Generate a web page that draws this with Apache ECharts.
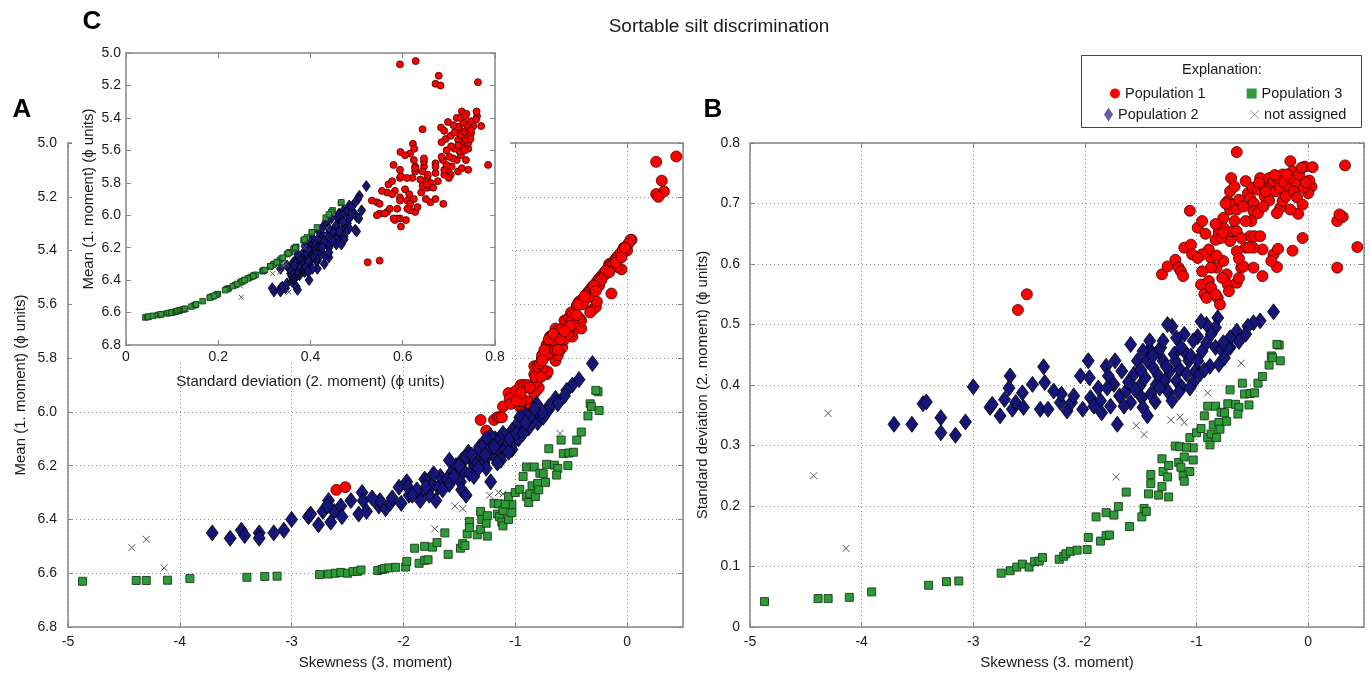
<!DOCTYPE html>
<html><head><meta charset="utf-8">
<script src="https://cdn.jsdelivr.net/npm/echarts@6/dist/echarts.min.js"></script>
<style>html,body{margin:0;padding:0;background:#fff}#chart{width:1370px;height:675px}</style>
</head><body><div id="chart"></div>
<script>
// ---------------- DATA (one index = one sample: skewness, std deviation, mean) ----------------
const seriesNames = ['Population 1', 'Population 2', 'Population 3', 'not assigned'];

const p1Skew = [-2.60,-2.52,-0.64,-0.69,-0.16,-0.03,0.04,0.33,0.26,0.31,
0.28,0.26,0.44,-0.05,-0.14,-0.09,0.03,0.01,0.00,-1.06,
-0.99,-0.95,-0.92,-1.31,-1.26,-1.19,-1.16,-1.14,-1.12,-1.11,
-1.05,-1.04,-0.96,-0.93,-0.91,-0.89,-0.87,-0.81,-0.79,-0.83,
-0.87,-0.82,-0.73,-0.72,-0.71,-0.64,-0.62,-0.60,-0.58,-0.49,
-0.41,-0.31,-0.28,-0.27,-0.33,-0.41,-0.49,-0.52,-0.48,-0.56,
-0.53,-0.43,-0.89,-0.83,-0.80,-0.76,-0.76,-0.72,-0.70,-0.68,
-0.66,-0.72,-0.70,-0.68,-0.64,-0.62,-0.58,-0.56,-0.54,-0.52,
-0.50,-0.49,-0.45,-0.43,-0.41,-0.39,-0.37,-0.35,-0.33,-0.31,
-0.29,-0.27,-0.25,-0.23,-0.21,-0.17,-0.16,-0.14,-0.12,-0.10,
-0.08,-0.06,-0.25,-0.23,-0.49,-0.45,-0.51,-0.64,-0.74,-0.76,
-0.82,-0.87,-0.77,-0.95,-0.95,-0.99,-0.83,-0.80,-0.78,-0.76,
-0.64,-0.62,-0.60,-0.56,-0.20,-0.13,-0.35,-0.40,-0.30,-0.19,
-0.10,-0.04,-0.70,-0.66,-0.44,-0.38,-0.05,-0.16,-0.28,-0.02];
const p1Std = [0.524,0.550,0.785,0.742,0.770,0.761,0.760,0.763,0.671,0.678,
0.682,0.594,0.628,0.643,0.622,0.683,0.728,0.738,0.717,0.688,
0.660,0.671,0.650,0.583,0.596,0.607,0.594,0.588,0.580,0.627,
0.632,0.616,0.566,0.550,0.544,0.572,0.561,0.544,0.533,0.550,
0.610,0.594,0.583,0.566,0.555,0.569,0.577,0.594,0.596,0.594,
0.580,0.616,0.595,0.625,0.605,0.624,0.627,0.646,0.646,0.627,
0.627,0.646,0.624,0.640,0.654,0.660,0.676,0.643,0.638,0.654,
0.671,0.704,0.690,0.698,0.690,0.706,0.695,0.737,0.717,0.709,
0.726,0.701,0.723,0.742,0.731,0.712,0.726,0.742,0.728,0.737,
0.720,0.742,0.726,0.748,0.734,0.723,0.742,0.753,0.739,0.731,
0.748,0.759,0.693,0.704,0.687,0.684,0.671,0.654,0.700,0.605,
0.614,0.594,0.577,0.588,0.616,0.610,0.666,0.649,0.643,0.652,
0.621,0.609,0.643,0.671,0.712,0.720,0.705,0.695,0.747,0.748,
0.710,0.726,0.720,0.728,0.734,0.720,0.698,0.690,0.684,0.735];
const p1Mean = [6.29,6.28,5.69,5.72,5.45,5.39,5.36,5.18,5.19,5.14,
5.20,5.07,5.05,5.47,5.56,5.46,5.36,5.375,5.40,5.93,
5.92,5.90,5.90,6.03,6.07,6.03,6.02,6.02,6.02,5.98,
5.95,5.97,5.98,5.99,6.00,5.96,5.99,5.92,5.91,5.93,
5.91,5.89,5.85,5.86,5.85,5.81,5.79,5.77,5.76,5.72,
5.69,5.62,5.61,5.59,5.63,5.66,5.70,5.70,5.67,5.73,
5.71,5.65,5.90,5.86,5.83,5.80,5.79,5.79,5.78,5.76,
5.74,5.75,5.75,5.72,5.72,5.70,5.69,5.66,5.66,5.65,
5.63,5.64,5.605,5.59,5.585,5.59,5.565,5.555,5.545,5.535,
5.535,5.515,5.505,5.495,5.485,5.465,5.46,5.45,5.44,5.43,
5.42,5.41,5.53,5.51,5.66,5.64,5.68,5.75,5.77,5.84,
5.87,5.91,5.87,5.96,5.93,5.96,5.83,5.83,5.82,5.81,
5.77,5.77,5.73,5.70,5.49,5.455,5.575,5.60,5.53,5.475,
5.445,5.40,5.73,5.71,5.60,5.57,5.425,5.48,5.55,5.39];

const p2Skew = [-3.71,-3.55,-3.45,-3.42,-3.29,-3.29,-3.16,-3.07,-3.00,-2.85,
-2.83,-2.76,-2.72,-2.67,-2.65,-2.62,-2.56,-2.55,-2.47,-2.40,
-2.37,-2.36,-2.33,-2.22,-2.21,-2.16,-2.12,-2.10,-2.04,-2.02,
-1.97,-1.96,-1.95,-1.86,-1.85,-1.81,-1.79,-1.77,-1.74,-1.71,
-1.69,-1.67,-1.63,-1.61,-1.59,-1.56,-1.53,-1.51,-1.49,-1.48,
-1.46,-1.44,-1.42,-1.41,-1.39,-1.36,-1.34,-1.32,-1.30,-1.28,
-1.26,-1.24,-1.22,-1.20,-1.18,-1.15,-1.13,-1.11,-1.09,-1.07,
-1.03,-1.01,-0.97,-0.95,-0.88,-0.83,-0.80,-0.78,-0.70,-0.75,
-0.31,-0.43,-0.49,-0.54,-0.56,-0.64,-0.62,-0.70,-0.72,-0.76,
-0.81,-0.83,-0.87,-0.91,-0.96,-0.99,-1.03,-1.11,-1.14,-1.18,
-1.22,-1.26,-1.30,-1.34,-1.42,-1.48,-1.59,-1.44,-1.88,-1.65,
-1.55,-1.37,-1.33,-1.27,-1.19,-1.16,-1.06,-1.05,-0.99,-0.93,
-0.91,-1.39,-1.50,-1.73,-2.28,-2.68,-1.92,-1.80];
const p2Std = [0.335,0.335,0.369,0.372,0.346,0.321,0.317,0.339,0.397,0.363,
0.368,0.349,0.376,0.415,0.360,0.371,0.387,0.363,0.401,0.360,
0.430,0.404,0.360,0.371,0.385,0.357,0.371,0.382,0.415,0.360,
0.440,0.412,0.379,0.374,0.354,0.431,0.415,0.365,0.401,0.335,
0.382,0.423,0.390,0.405,0.371,0.418,0.440,0.398,0.379,0.363,
0.412,0.349,0.459,0.385,0.429,0.401,0.415,0.462,0.440,0.408,
0.390,0.423,0.374,0.451,0.407,0.426,0.396,0.456,0.418,0.440,
0.404,0.423,0.418,0.456,0.431,0.462,0.434,0.459,0.462,0.445,
0.521,0.506,0.503,0.497,0.484,0.489,0.472,0.478,0.462,0.470,
0.511,0.495,0.484,0.500,0.505,0.480,0.473,0.484,0.462,0.478,
0.497,0.500,0.473,0.456,0.473,0.456,0.467,0.440,0.395,0.365,
0.392,0.372,0.395,0.430,0.440,0.388,0.395,0.448,0.440,0.425,
0.470,0.448,0.425,0.440,0.390,0.395,0.365,0.395];
const p2Mean = [6.45,6.47,6.44,6.46,6.45,6.47,6.45,6.44,6.40,6.39,
6.38,6.42,6.37,6.33,6.41,6.37,6.35,6.39,6.33,6.38,
6.30,6.33,6.37,6.35,6.33,6.36,6.34,6.32,6.28,6.34,
6.26,6.28,6.31,6.31,6.33,6.25,6.26,6.31,6.27,6.33,
6.28,6.24,6.26,6.25,6.27,6.22,6.20,6.23,6.26,6.29,
6.22,6.31,6.16,6.23,6.18,6.20,6.19,6.13,6.15,6.19,
6.21,6.16,6.26,6.12,6.17,6.14,6.18,6.10,6.14,6.11,
6.14,6.11,6.10,6.06,6.06,6.02,6.04,6.01,5.99,6.02,
5.82,5.88,5.90,5.92,5.94,5.95,5.97,5.98,6.00,6.00,
5.97,5.99,6.02,6.01,6.02,6.05,6.07,6.08,6.10,6.10,
6.09,6.10,6.13,6.15,6.15,6.18,6.18,6.17,6.29,6.29,
6.24,6.24,6.21,6.16,6.13,6.19,6.15,6.10,6.08,6.08,
6.04,6.16,6.20,6.23,6.32,6.35,6.31,6.28];

const p3Skew = [-4.87,-4.39,-4.30,-4.11,-3.91,-3.40,-3.24,-3.13,-2.75,-2.67,
-2.61,-2.56,-2.50,-2.45,-2.41,-2.38,-2.23,-2.19,-2.17,-2.13,
-2.07,-1.98,-1.97,-1.90,-1.86,-1.81,-1.78,-1.81,-1.74,-1.70,
-1.63,-1.60,-1.49,-1.47,-1.45,-1.43,-1.41,-1.41,-1.34,-1.31,
-1.30,-1.31,-1.25,-1.26,-1.25,-1.19,-1.16,-1.14,-1.12,-1.11,
-1.15,-1.11,-1.06,-1.03,-1.03,-1.09,-1.06,-1.00,-0.96,-0.93,
-0.90,-0.90,-0.88,-0.87,-0.85,-0.83,-0.82,-0.80,-0.79,-0.78,
-0.75,-0.73,-0.70,-0.72,-0.65,-0.62,-0.63,-0.59,-0.57,-0.53,
-0.52,-0.48,-0.45,-0.41,-0.35,-0.33,-0.32,-0.25,-0.26,-0.28];
const p3Std = [0.042,0.047,0.047,0.049,0.058,0.069,0.075,0.076,0.089,0.093,
0.099,0.104,0.099,0.108,0.109,0.115,0.112,0.117,0.121,0.125,
0.127,0.128,0.148,0.182,0.142,0.151,0.152,0.189,0.185,0.199,
0.223,0.166,0.182,0.196,0.191,0.220,0.252,0.237,0.218,0.232,
0.257,0.278,0.215,0.248,0.267,0.299,0.272,0.264,0.250,0.241,
0.298,0.281,0.257,0.276,0.296,0.297,0.313,0.321,0.328,0.349,
0.365,0.313,0.301,0.319,0.334,0.365,0.313,0.338,0.327,0.355,
0.354,0.340,0.392,0.369,0.368,0.363,0.352,0.403,0.385,0.367,
0.386,0.387,0.403,0.414,0.433,0.448,0.445,0.440,0.466,0.467];
const p3Mean = [6.630,6.627,6.627,6.626,6.620,6.615,6.612,6.611,6.605,6.603,
6.600,6.597,6.600,6.594,6.593,6.588,6.590,6.586,6.583,6.580,
6.578,6.577,6.556,6.507,6.563,6.552,6.550,6.500,6.503,6.486,
6.450,6.530,6.507,6.490,6.497,6.454,6.408,6.430,6.457,6.437,
6.400,6.370,6.462,6.414,6.386,6.340,6.380,6.390,6.410,6.424,
6.342,6.367,6.400,6.375,6.345,6.343,6.315,6.300,6.288,6.240,
6.205,6.315,6.337,6.305,6.275,6.205,6.315,6.266,6.290,6.228,
6.230,6.262,6.137,6.195,6.198,6.210,6.235,6.105,6.155,6.200,
6.153,6.150,6.105,6.075,6.015,5.970,5.980,5.995,5.925,5.920];

const naSkew = [-4.43,-4.30,-4.14,-1.72,-1.54,-1.47,-1.23,-1.15,-1.11,-0.90,-0.60];
const naStd  = [0.250,0.353,0.130,0.248,0.333,0.318,0.342,0.347,0.338,0.387,0.436];
const naMean = [6.505,6.474,6.580,6.435,6.350,6.360,6.310,6.300,6.305,6.200,6.080];

// axis ranges / tick steps
const skewRange = [-5, 0.5], skewStep = 1;
const meanRange = [5.0, 6.8], meanStep = 0.2;
const stdRangeB = [0, 0.8], stdStepB = 0.1;
const stdRangeC = [0, 0.8], stdStepC = 0.2;

// ---------------- CHART ----------------
const FONT = '"Liberation Sans", Arial, Helvetica, sans-serif';
const AXC = '#858585', TXT = '#1a1a1a';
const chart = echarts.init(document.getElementById('chart'), null, {renderer: 'canvas'});
const zip = (a, b) => a.map((v, i) => [v, b[i]]);
const X_PATH = 'path://M0,0L10,10M10,0L0,10';

function mainAxis(p) {
  return {
    type: 'value', gridIndex: p.grid, position: p.pos, min: p.range[0], max: p.range[1], interval: p.step,
    inverse: !!p.inverse, z: p.z || 0,
    name: p.name, nameLocation: 'middle', nameGap: p.nameGap,
    nameTextStyle: {fontFamily: FONT, fontSize: 15, color: TXT},
    axisLine: {show: true, onZero: false, lineStyle: {color: AXC, width: 1.5}},
    axisTick: {show: true, inside: true, length: 5, lineStyle: {color: AXC, width: 1}},
    axisLabel: {show: true, fontFamily: FONT, fontSize: 14, color: TXT, margin: p.margin,
      showMaxLabel: p.showMax !== false, showMinLabel: true, formatter: p.fmt},
    splitLine: {show: !!p.split, lineStyle: {type: [1, 3], color: '#8c8c8c', width: 1}}
  };
}
function mirrorAxis(p) {
  return {
    type: 'value', gridIndex: p.grid, position: p.pos, min: p.range[0], max: p.range[1], interval: p.step,
    inverse: !!p.inverse, z: p.z || 0,
    axisLine: {show: true, onZero: false, lineStyle: {color: AXC, width: 1.5}},
    axisTick: {show: true, inside: true, length: 5, lineStyle: {color: AXC, width: 1}},
    axisLabel: {show: false}, splitLine: {show: false}
  };
}
const fmtInt = v => String(Math.round(v));
const fmt1 = v => v.toFixed(1);
const fmt1z = v => (Math.abs(v) < 1e-9 ? '0' : v.toFixed(1));

const xAxis = [
  mainAxis({grid: 0, pos: 'bottom', range: skewRange, step: skewStep, name: 'Skewness (3. moment)', nameGap: 28, margin: 8, showMax: false, fmt: fmtInt, split: true}),
  mainAxis({grid: 1, pos: 'bottom', range: skewRange, step: skewStep, name: 'Skewness (3. moment)', nameGap: 28, margin: 8, showMax: false, fmt: fmtInt, split: true}),
  mainAxis({grid: 2, pos: 'bottom', range: stdRangeC, step: stdStepC, name: 'Standard deviation (2. moment) (\u03D5 units)', nameGap: 29, margin: 5, fmt: fmt1z, z: 20}),
  mirrorAxis({grid: 0, pos: 'top', range: skewRange, step: skewStep}),
  mirrorAxis({grid: 1, pos: 'top', range: skewRange, step: skewStep}),
  mirrorAxis({grid: 2, pos: 'top', range: stdRangeC, step: stdStepC, z: 20})
];
const yAxis = [
  mainAxis({grid: 0, pos: 'left', range: meanRange, step: meanStep, inverse: true, name: 'Mean (1. moment) (\u03D5 units)', nameGap: 40, margin: 11, fmt: fmt1, split: true}),
  mainAxis({grid: 1, pos: 'left', range: stdRangeB, step: stdStepB, name: 'Standard deviation (2. moment) (\u03D5 units)', nameGap: 40, margin: 10, fmt: fmt1z, split: true}),
  mainAxis({grid: 2, pos: 'left', range: meanRange, step: meanStep, inverse: true, name: 'Mean (1. moment) (\u03D5 units)', nameGap: 30, margin: 5, fmt: fmt1, z: 20}),
  mirrorAxis({grid: 0, pos: 'right', range: meanRange, step: meanStep, inverse: true}),
  mirrorAxis({grid: 1, pos: 'right', range: stdRangeB, step: stdStepB}),
  mirrorAxis({grid: 2, pos: 'right', range: meanRange, step: meanStep, inverse: true, z: 20})
];

const styles = {
  'Population 1': {symbol: 'circle', big: 11, small: 7, item: {color: '#ff0000', borderColor: '#3a0000', borderWidth: 0.8, opacity: 1}},
  'Population 2': {symbol: 'diamond', big: [12, 16], small: [8, 11], item: {color: '#16167a', borderColor: '#000000', borderWidth: 0.8, opacity: 1}},
  'Population 3': {symbol: 'rect', big: 8, small: 5.5, item: {color: '#2e9a38', borderColor: '#163d18', borderWidth: 0.9, opacity: 1}},
  'not assigned': {symbol: X_PATH, big: 7, small: 5, item: {color: 'none', borderColor: '#555555', borderWidth: 1, opacity: 1}}
};
const triples = {
  'Population 1': [p1Skew, p1Std, p1Mean],
  'Population 2': [p2Skew, p2Std, p2Mean],
  'Population 3': [p3Skew, p3Std, p3Mean],
  'not assigned': [naSkew, naStd, naMean]
};
const series = [];
seriesNames.forEach(name => {
  const [sk, sd, mn] = triples[name];
  const st = styles[name];
  const panels = [
    {idx: 0, data: zip(sk, mn), size: st.big, z: 2},
    {idx: 1, data: zip(sk, sd), size: st.big, z: 2},
    {idx: 2, data: zip(sd, mn), size: st.small, z: 20}
  ];
  panels.forEach(p => series.push({
    type: 'scatter', name: name, xAxisIndex: p.idx, yAxisIndex: p.idx, data: p.data,
    symbol: st.symbol, symbolSize: p.size, itemStyle: st.item, z: p.z,
    emphasis: {disabled: true}, animation: false, clip: true
  }));
});

const legendText = {fontFamily: FONT, fontSize: 14.5, color: TXT};
const option = {
  backgroundColor: '#ffffff',
  animation: false,
  grid: [
    {left: 68, top: 143, width: 615, height: 484, outerBoundsMode: 'none'},
    {left: 750, top: 143, width: 614, height: 484, outerBoundsMode: 'none'},
    {left: 126, top: 53, width: 369, height: 292, outerBoundsMode: 'none'}
  ],
  xAxis: xAxis,
  yAxis: yAxis,
  legend: [
    {left: 1105, top: 81, itemGap: 41, itemWidth: 10, itemHeight: 10, selectedMode: false, textStyle: legendText,
     data: [{name: 'Population 1', icon: 'circle', itemStyle: {color: '#ff0000', borderWidth: 0, opacity: 1}},
            {name: 'Population 3', icon: 'rect', itemStyle: {color: '#2e9a38', borderWidth: 0, opacity: 1}}]},
    {left: 1099, top: 102, itemGap: 49, itemWidth: 9, itemHeight: 14, selectedMode: false, textStyle: legendText,
     data: [{name: 'Population 2', icon: 'diamond', itemStyle: {color: '#6a5aa6', borderWidth: 0, opacity: 1}},
            {name: 'not assigned', icon: 'path://M0,0L7,7M7,0L0,7', itemStyle: {color: 'none', borderColor: '#999999', borderWidth: 1, opacity: 1}}]}
  ],
  graphic: [
    {type: 'rect', silent: true, z: 10, shape: {x: 72, y: 30, width: 438, height: 332}, style: {fill: '#ffffff'}},
    {type: 'rect', silent: true, z: 1, shape: {x: 1081.5, y: 55.5, width: 280, height: 72}, style: {fill: '#ffffff', stroke: '#444444', lineWidth: 1}},
    {type: 'text', silent: true, z: 5, x: 1222, y: 70, style: {text: 'Explanation:', fontFamily: FONT, fontSize: 14.5, fill: TXT, align: 'center', verticalAlign: 'middle'}},
    {type: 'text', silent: true, z: 5, x: 719, y: 27, style: {text: 'Sortable silt discrimination', fontFamily: FONT, fontSize: 19, fill: TXT, align: 'center', verticalAlign: 'middle'}},
    {type: 'text', silent: true, z: 5, x: 22, y: 110, style: {text: 'A', fontFamily: FONT, fontSize: 26, fontWeight: 'bold', fill: '#000', align: 'center', verticalAlign: 'middle'}},
    {type: 'text', silent: true, z: 5, x: 713, y: 110, style: {text: 'B', fontFamily: FONT, fontSize: 26, fontWeight: 'bold', fill: '#000', align: 'center', verticalAlign: 'middle'}},
    {type: 'text', silent: true, z: 30, x: 92, y: 22, style: {text: 'C', fontFamily: FONT, fontSize: 26, fontWeight: 'bold', fill: '#000', align: 'center', verticalAlign: 'middle'}}
  ],
  series: series
};
chart.setOption(option);
</script>
</body></html>
